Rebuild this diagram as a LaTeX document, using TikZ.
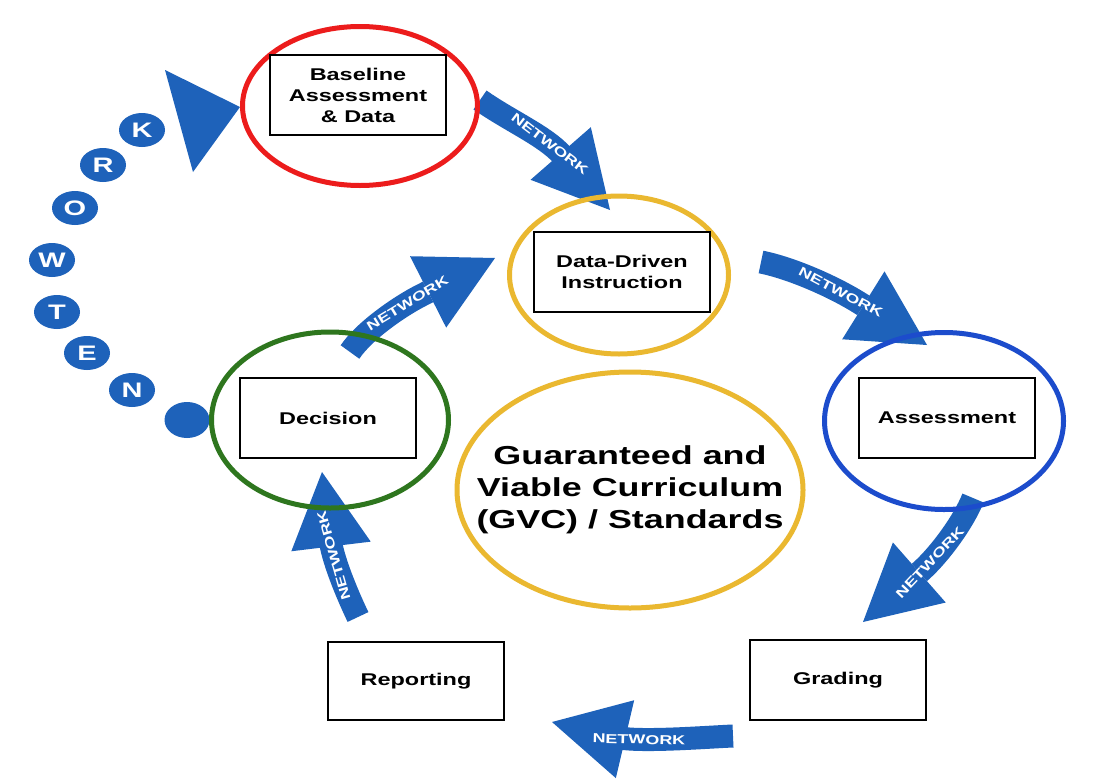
\documentclass[tikz,border=0pt]{standalone}
\usepackage{fontspec}
\setmainfont{Liberation Sans}
\newfontfamily\wfont[FakeStretch=1.38]{Liberation Sans}
\usetikzlibrary{shapes.geometric,arrows.meta}
\definecolor{nblue}{RGB}{30,98,186}
\definecolor{rred}{RGB}{236,28,28}
\definecolor{rgold}{RGB}{234,184,48}
\definecolor{rgreen}{RGB}{46,118,30}
\definecolor{rblue}{RGB}{28,76,204}
\begin{document}
\begin{tikzpicture}[x=1pt,y=-1pt,
  box/.style={draw=black, line width=2.5pt, fill=white, minimum width=176pt, minimum height=80pt, inner sep=0pt, align=center, font=\wfont\bfseries\fontsize{17}{21}\selectfont},
  ring/.style={ellipse, line width=5pt, inner sep=0pt},
  netarrow/.style={draw=nblue, line width=23pt, -{Triangle[length=75pt,width=80pt,line width=0pt]}},
  nettext/.style={sloped, text=white, font=\wfont\bfseries\fontsize{13}{13}\selectfont, inner sep=0pt},
  letter/.style={ellipse, fill=nblue, minimum width=46pt, minimum height=34pt, inner sep=0pt, text=white, font=\wfont\bfseries\fontsize{21}{21}\selectfont}
]
\useasboundingbox[fill=white] (0,0) rectangle (1102,779);

% arrow end points
\coordinate (t1) at (480,100);  \coordinate (h1) at (562,155);  \coordinate (p1) at (610,210);
\coordinate (t2) at (350,352);  \coordinate (h2) at (422,295);  \coordinate (p2) at (495,258);
\coordinate (t3) at (761,262);  \coordinate (h3) at (858,302);  \coordinate (p3) at (927,345);
\coordinate (t4) at (973,498);  \coordinate (h4) at (921,571);  \coordinate (p4) at (863,622);
\coordinate (t5) at (733,736);  \coordinate (h5) at (620,738);  \coordinate (p5) at (552,722);
\coordinate (t6) at (358,617);  \coordinate (h6) at (330,538);  \coordinate (p6) at (322,472);

\draw[netarrow] (t1) .. controls (510,121) and (545,136) .. node[nettext,pos=0.8]{NETWORK} (h1) -- (p1);
\draw[netarrow] (t2) .. controls (364,331) and (400,306) .. node[nettext,pos=0.8]{NETWORK} (h2) -- (p2);
\draw[netarrow] (t3) .. controls (791,268) and (832,286) .. node[nettext,pos=0.8]{NETWORK} (h3) -- (p3);
\draw[netarrow] (t4) .. controls (964,521) and (940,554) .. node[nettext,pos=0.85]{NETWORK} (h4) -- (p4);
\draw[netarrow] (t5) .. controls (708,737) and (645,742) .. node[nettext,pos=0.8]{NETWORK} (h5) -- (p5);
\draw[netarrow] (t6) .. controls (347,594) and (332,558) .. node[nettext,allow upside down,pos=0.75]{NETWORK} (h6) -- (p6);

% NETWORK circle word
\node[letter] (lk) at (142,130) {K};
\node[letter] (lr) at (103,165) {R};
\node[letter] (lo) at (75,208) {O};
\node[letter] (lw) at (52,260) {W};
\node[letter] (lt) at (57,312) {T};
\node[letter] (le) at (87,353) {E};
\node[letter] (ln) at (132,390) {N};
\node[letter, minimum width=45pt, minimum height=36pt] (ldot) at (187,420) {};
\fill[nblue] (165,70) -- (240,107) -- (193,172) -- cycle;

% rings
\node[ring, draw=rred, minimum width=235pt, minimum height=159pt] (rbase) at (360,106) {};
\node[ring, draw=rgold, minimum width=219pt, minimum height=158pt] (rddi) at (619,275) {};
\node[ring, draw=rblue, minimum width=239pt, minimum height=177pt] (rass) at (944,421) {};
\node[ring, draw=rgreen, minimum width=237pt, minimum height=176pt] (rdec) at (330,420) {};
\node[ring, draw=rgold, minimum width=346pt, minimum height=236pt] (gvc) at (630,490) {};
\node[align=center, inner sep=0pt, font=\wfont\bfseries\fontsize{26}{32}\selectfont] (gvctext) at (gvc.center)
      {Guaranteed and\\Viable Curriculum\\(GVC) / Standards};

% boxes
\node[box] (bbase) at (358,95) {Baseline\\Assessment\\\& Data};
\node[box] (bddi) at (622,272) {Data-Driven\\Instruction};
\node[box] (bass) at (947,418) {Assessment};
\node[box] (bdec) at (328,418) {Decision};
\node[box, minimum height=78pt] (brep) at (416,681) {Reporting};
\node[box] (bgrad) at (838,680) {Grading};
\end{tikzpicture}
\end{document}
